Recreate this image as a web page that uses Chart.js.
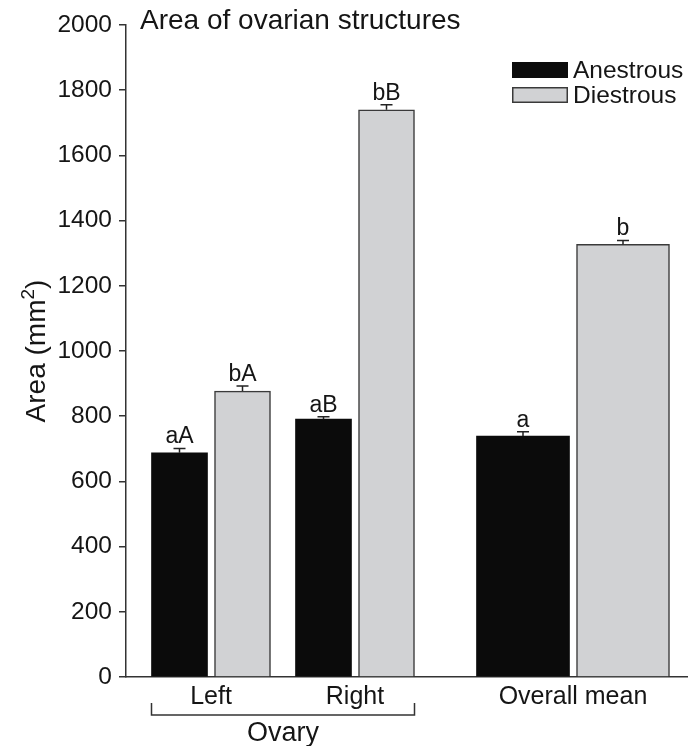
<!DOCTYPE html>
<html>
<head>
<meta charset="utf-8">
<script src="https://cdn.jsdelivr.net/npm/chart.js@4.4.1/dist/chart.umd.min.js"></script>
<style>
  html, body { margin: 0; padding: 0; background: #fff; }
</style>
</head>
<body>
<canvas id="chart" width="688" height="746"></canvas>
<script>
// values
const categories = ["Left", "Right", "Overall mean"];
const anestrous = [688, 791, 739];
const diestrous = [877, 1740, 1327];
const anestrousErr = [13, 7, 13];
const diestrousErr = [16, 15, 12];
const anestrousLetters = ["aA", "aB", "a"];
const diestrousLetters = ["bA", "bB", "b"];
const seriesNames = ["Anestrous", "Diestrous"];

// layout: group centres on the x axis (axis runs 0..562) and bar widths
const groupX = [85, 229, 447];
const barW = [56, 56, 93];
const gap = 7;

const FONT = "'Liberation Sans', Arial, sans-serif";
const TEXT = "#151515";
const BLACK = "#0b0b0b";
const GREY = "#d1d2d4";
const LINE = "#3a3a3a";

// one dataset per bar width (ovary bars are narrower than overall bars)
function makeSet(label, values, errs, letters, idx, side, color, border) {
  return {
    label: label,
    data: idx.map((i) => ({ x: groupX[i] + side * (barW[i] + gap) / 2, y: values[i] })),
    err: idx.map((i) => errs[i]),
    letters: idx.map((i) => letters[i]),
    backgroundColor: color,
    borderColor: border,
    borderWidth: border === BLACK ? 0 : 1.5,
    barThickness: barW[idx[0]],
    grouped: false,
  };
}

const datasets = [
  makeSet(seriesNames[0], anestrous, anestrousErr, anestrousLetters, [0, 1], -1, BLACK, BLACK),
  makeSet(seriesNames[1], diestrous, diestrousErr, diestrousLetters, [0, 1], 1, GREY, LINE),
  makeSet(seriesNames[0], anestrous, anestrousErr, anestrousLetters, [2], -1, BLACK, BLACK),
  makeSet(seriesNames[1], diestrous, diestrousErr, diestrousLetters, [2], 1, GREY, LINE),
];

// error bars, letters, titles, legend and the "Ovary" bracket
const extras = {
  id: "extras",
  afterDatasetsDraw(chart) {
    const ctx = chart.ctx;
    const y = chart.scales.y;
    const area = chart.chartArea;
    ctx.save();
    chart.data.datasets.forEach((ds, di) => {
      chart.getDatasetMeta(di).data.forEach((bar, i) => {
        const top = y.getPixelForValue(ds.data[i].y + ds.err[i]);
        ctx.strokeStyle = "#222";
        ctx.lineWidth = 1.5;
        ctx.beginPath();
        ctx.moveTo(bar.x, bar.y);
        ctx.lineTo(bar.x, top);
        ctx.moveTo(bar.x - 6, top);
        ctx.lineTo(bar.x + 6, top);
        ctx.stroke();
        ctx.fillStyle = TEXT;
        ctx.font = "23px " + FONT;
        ctx.textAlign = "center";
        ctx.textBaseline = "alphabetic";
        ctx.fillText(ds.letters[i], bar.x, top - 5);
      });
    });

    // title inside the plot
    ctx.fillStyle = TEXT;
    ctx.font = "28px " + FONT;
    ctx.textAlign = "left";
    ctx.fillText("Area of ovarian structures", 140, 29);

    // y axis title with a real superscript
    ctx.save();
    ctx.translate(45, (area.top + area.bottom) / 2);
    ctx.rotate(-Math.PI / 2);
    const main = "Area (mm";
    ctx.font = "28px " + FONT;
    const w1 = ctx.measureText(main).width;
    const w3 = ctx.measureText(")").width;
    ctx.font = "19px " + FONT;
    const w2 = ctx.measureText("2").width;
    let tx = -(w1 + w2 + w3) / 2;
    ctx.font = "28px " + FONT;
    ctx.fillText(main, tx, 0);
    ctx.font = "19px " + FONT;
    ctx.fillText("2", tx + w1, -11);
    ctx.font = "28px " + FONT;
    ctx.fillText(")", tx + w1 + w2, 0);
    ctx.restore();

    // legend
    const lx = 512, ly = 62;
    ctx.fillStyle = BLACK;
    ctx.fillRect(lx, ly, 56, 16);
    ctx.fillStyle = GREY;
    ctx.fillRect(lx, ly + 25, 56, 16);
    ctx.strokeStyle = LINE;
    ctx.lineWidth = 1.5;
    ctx.strokeRect(lx + 0.75, ly + 25.75, 54.5, 14.5);
    ctx.fillStyle = TEXT;
    ctx.font = "24.5px " + FONT;
    ctx.textAlign = "left";
    ctx.fillText(seriesNames[0], lx + 61, ly + 16);
    ctx.fillText(seriesNames[1], lx + 61, ly + 41);

    // bracket under Left / Right
    const m0 = chart.getDatasetMeta(0).data[0];
    const m1 = chart.getDatasetMeta(1).data[1];
    const x0 = m0.x - m0.width / 2;
    const x1 = m1.x + m1.width / 2;
    ctx.strokeStyle = "#333";
    ctx.lineWidth = 1.5;
    ctx.beginPath();
    ctx.moveTo(x0, 703);
    ctx.lineTo(x0, 715);
    ctx.lineTo(x1, 715);
    ctx.lineTo(x1, 703);
    ctx.stroke();
    ctx.fillStyle = TEXT;
    ctx.font = "27px " + FONT;
    ctx.textAlign = "center";
    ctx.fillText("Ovary", (x0 + x1) / 2, 741);
    ctx.restore();
  },
};

new Chart(document.getElementById("chart"), {
  type: "bar",
  data: { datasets: datasets },
  options: {
    responsive: false,
    animation: false,
    layout: { padding: { top: 25, right: 0, left: 0, bottom: 0 } },
    plugins: { legend: { display: false }, tooltip: { enabled: false } },
    scales: {
      x: {
        type: "linear",
        min: 0,
        max: 562,
        offset: false,
        afterBuildTicks: (scale) => {
          scale.ticks = groupX.map((v) => ({ value: v }));
        },
        afterFit: (scale) => {
          scale.height = 69;
        },
        grid: { display: false },
        border: { display: true, color: "#333", width: 1.5 },
        ticks: {
          padding: -3,
          color: TEXT,
          font: { family: FONT, size: 25 },
          callback: (v, i) => categories[i],
        },
      },
      y: {
        min: 0,
        max: 2000,
        afterFit: (scale) => {
          scale.width = 126;
        },
        grid: {
          display: true,
          drawOnChartArea: false,
          drawTicks: true,
          tickLength: 7,
          color: "#333",
          lineWidth: 1.5,
        },
        border: { display: true, color: "#333", width: 1.5 },
        ticks: {
          stepSize: 200,
          padding: 7,
          color: TEXT,
          font: { family: FONT, size: 24.5 },
          callback: (v) => String(v),
        },
      },
    },
  },
  plugins: [extras],
});
</script>
</body>
</html>
